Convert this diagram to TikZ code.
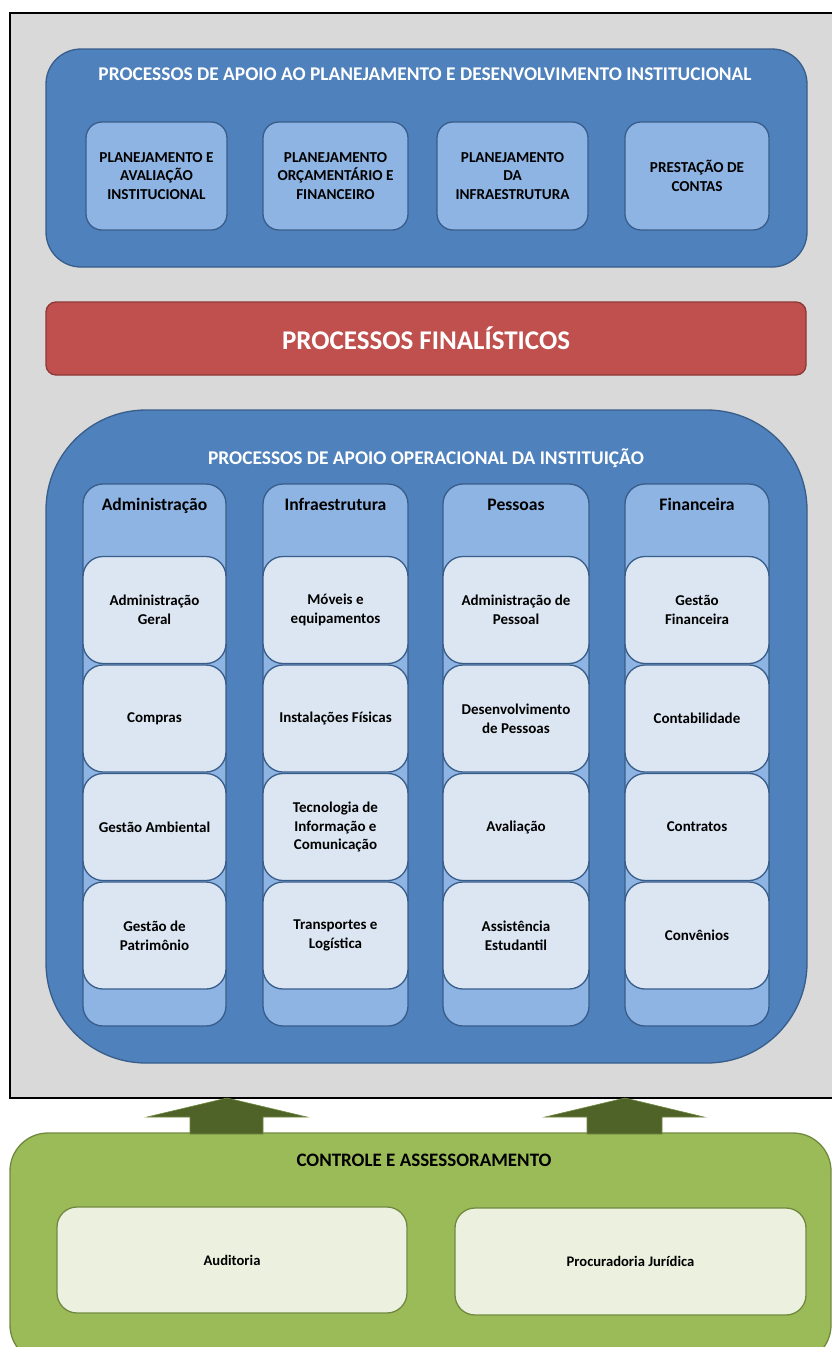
\documentclass[tikz,border=0pt]{standalone}
\usepackage{fontspec}
\setmainfont{Carlito}
\definecolor{bggray}{HTML}{D9D9D9}
\definecolor{blueA}{HTML}{4F81BD}
\definecolor{blueD}{HTML}{385D8A}
\definecolor{blueL}{HTML}{8EB4E3}
\definecolor{blueP}{HTML}{DCE6F2}
\definecolor{redA}{HTML}{C0504D}
\definecolor{redD}{HTML}{8C3836}
\definecolor{greenA}{HTML}{9BBB59}
\definecolor{greenD}{HTML}{71893F}
\definecolor{greenP}{HTML}{EBF1DE}
\definecolor{olive}{HTML}{4F6228}
\begin{document}
\begin{tikzpicture}[x=1pt,y=-1pt,
  every node/.style={inner sep=0pt,outer sep=0pt},
  bigblue/.style={draw=blueD,line width=1.3pt,fill=blueA},
  lbox/.style={draw=blueD,line width=1.3pt,fill=blueL,rounded corners=16pt,minimum height=108pt,align=center,
    font=\fontsize{15.2}{18.7}\selectfont\bfseries},
  colbox/.style={draw=blueD,line width=1.3pt,fill=blueL,rounded corners=20pt,minimum height=542pt},
  itembox/.style={draw=blueD,line width=1.3pt,fill=blueP,rounded corners=20pt,minimum height=107pt,align=center,
    font=\fontsize{15}{18.7}\selectfont\bfseries},
  whitetitle/.style={text=white,font=\fontsize{19.4}{22}\selectfont\bfseries},
  colhead/.style={font=\fontsize{17.6}{20}\selectfont\bfseries,text height=12pt,text depth=4pt},
  gbox/.style={draw=greenD,line width=1.3pt,fill=greenP,rounded corners=20pt,align=center,
    font=\fontsize{14.6}{17}\selectfont\bfseries},
  blockarrow/.style={fill=olive,draw=greenD,line width=0.6pt},
]
\useasboundingbox (0,0) rectangle (832,1347);
\fill[white] (0,0) rectangle (832,1347);

% outer gray frame
\node[draw=black,line width=2pt,fill=bggray,minimum width=840pt,minimum height=1085pt] (frame) at (430,555.5) {};

% top support box
\node[bigblue,rounded corners=35pt,minimum width=761pt,minimum height=218pt] (plan) at (426.5,158) {};
\node[whitetitle] (plantitle) at (425,74) {PROCESSOS DE APOIO AO PLANEJAMENTO E DESENVOLVIMENTO INSTITUCIONAL};
\node[lbox,minimum width=141pt] (p1) at (156.5,176) {PLANEJAMENTO E\\AVALIAÇÃO\\INSTITUCIONAL};
\node[lbox,minimum width=145pt] (p2) at (335.5,176) {PLANEJAMENTO\\ORÇAMENTÁRIO E\\FINANCEIRO};
\node[lbox,minimum width=151pt] (p3) at (512.5,176) {PLANEJAMENTO\\DA\\INFRAESTRUTURA};
\node[lbox,minimum width=144pt] (p4) at (697,176) {PRESTAÇÃO DE\\CONTAS};

% red bar
\node[draw=redD,line width=1.3pt,fill=redA,rounded corners=10pt,minimum width=760pt,minimum height=73pt,
  text=white,font=\fontsize{27}{30}\selectfont\bfseries] (fin) at (426,338.5) {PROCESSOS FINALÍSTICOS};

% operational box
\node[bigblue,rounded corners=100pt,minimum width=761pt,minimum height=653pt] (op) at (426.5,736.5) {};
\node[whitetitle] (optitle) at (426,458) {PROCESSOS DE APOIO OPERACIONAL DA INSTITUIÇÃO};

% columns
\node[colbox,minimum width=143pt] (c1) at (154.5,755) {};
\node[colbox,minimum width=145pt] (c2) at (335.5,755) {};
\node[colbox,minimum width=146pt] (c3) at (516,755) {};
\node[colbox,minimum width=144pt] (c4) at (697,755) {};
\node[colhead] (h1) at (154.5,506) {Administração};
\node[colhead] (h2) at (335.5,506) {Infraestrutura};
\node[colhead] (h3) at (516,506) {Pessoas};
\node[colhead] (h4) at (697,506) {Financeira};

% items column 1
\node[itembox,minimum width=143pt] (a1) at (154.5,610) {Administração\\Geral};
\node[itembox,minimum width=143pt] (a2) at (154.5,718.5) {Compras};
\node[itembox,minimum width=143pt] (a3) at (154.5,827) {Gestão Ambiental};
\node[itembox,minimum width=143pt] (a4) at (154.5,935.5) {Gestão de\\Patrimônio};
% items column 2
\node[itembox,minimum width=145pt] (b1) at (335.5,610) {Móveis e\\equipamentos};
\node[itembox,minimum width=145pt] (b2) at (335.5,718.5) {Instalações Físicas};
\node[itembox,minimum width=145pt] (b3) at (335.5,827) {Tecnologia de\\Informação e\\Comunicação};
\node[itembox,minimum width=145pt] (b4) at (335.5,935.5) {Transportes e\\Logística};
% items column 3
\node[itembox,minimum width=146pt] (d1) at (516,610) {Administração de\\Pessoal};
\node[itembox,minimum width=146pt] (d2) at (516,718.5) {Desenvolvimento\\de Pessoas};
\node[itembox,minimum width=146pt] (d3) at (516,827) {Avaliação};
\node[itembox,minimum width=146pt] (d4) at (516,935.5) {Assistência\\Estudantil};
% items column 4
\node[itembox,minimum width=144pt] (e1) at (697,610) {Gestão\\Financeira};
\node[itembox,minimum width=144pt] (e2) at (697,718.5) {Contabilidade};
\node[itembox,minimum width=144pt] (e3) at (697,827) {Contratos};
\node[itembox,minimum width=144pt] (e4) at (697,935.5) {Convênios};

% green control box
\node[draw=greenD,line width=1.3pt,fill=greenA,rounded corners=38pt,minimum width=821pt,minimum height=230pt] (ctrl) at (420.5,1248) {};
\node[font=\fontsize{19}{22}\selectfont\bfseries] (ctrltitle) at (424,1160) {CONTROLE E ASSESSORAMENTO};
\node[gbox,minimum width=350pt,minimum height=106pt] (aud) at (232,1260) {Auditoria};
\node[gbox,minimum width=351pt,minimum height=107pt] (proc) at (630.5,1261.5) {Procuradoria Jurídica};

% block arrows
\draw[blockarrow] (190,1134) -- (190,1117) -- (147,1117) -- (227,1098) -- (307,1117) -- (263,1117) -- (263,1134) -- cycle;
\draw[blockarrow] (587,1134) -- (587,1117) -- (545,1117) -- (625,1098) -- (704,1117) -- (662,1117) -- (662,1134) -- cycle;
\end{tikzpicture}
\end{document}
